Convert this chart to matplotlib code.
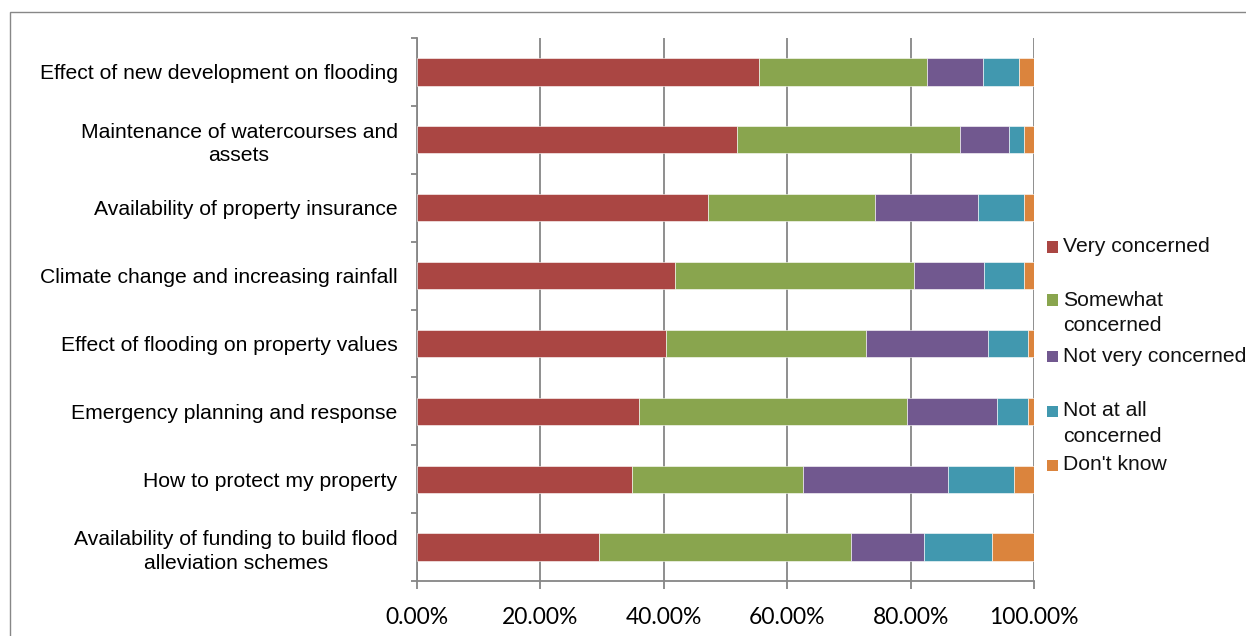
import matplotlib
matplotlib.use("Agg")
import matplotlib.pyplot as plt
from matplotlib.patches import Rectangle
import numpy as np

categories = [
    "Effect of new development on flooding",
    "Maintenance of watercourses and\nassets",
    "Availability of property insurance",
    "Climate change and increasing rainfall",
    "Effect of flooding on property values",
    "Emergency planning and response",
    "How to protect my property",
    "Availability of funding to build flood\nalleviation schemes",
]
series_names = ["Very concerned", "Somewhat concerned", "Not very concerned",
                "Not at all concerned", "Don't know"]
legend_lines = [["Very concerned"], ["Somewhat", "concerned"], ["Not very concerned"],
                ["Not at all", "concerned"], ["Don't know"]]

very = [55.4, 51.9, 47.1, 41.8, 40.4, 35.9, 34.9, 29.5]
somewhat = [27.2, 36.1, 27.2, 38.8, 32.3, 43.5, 27.7, 40.9]
not_very = [9.1, 8.0, 16.6, 11.3, 19.9, 14.6, 23.5, 11.8]
not_at_all = [5.8, 2.4, 7.4, 6.5, 6.5, 5.1, 10.6, 11.0]
dont_know = [2.5, 1.6, 1.7, 1.6, 0.9, 0.9, 3.3, 6.8]

xticks = [0, 20, 40, 60, 80, 100]
xtick_labels = ["0.00%", "20.00%", "40.00%", "60.00%", "80.00%", "100.00%"]

colors = ["#AA4643", "#89A54E", "#71588F", "#4198AF", "#DB843D"]

W, H = 1246, 636
fig = plt.figure(figsize=(W / 100, H / 100), dpi=100)
ax = fig.add_axes([417 / W, 1 - 581 / H, 617 / W, (581 - 38) / H])

y = np.arange(len(categories))
left = np.zeros(len(categories))
for vals, c, name in zip([very, somewhat, not_very, not_at_all, dont_know], colors, series_names):
    ax.barh(y, vals, left=left, height=0.4, color=c, edgecolor="white",
            linewidth=0.4, label=name, zorder=3)
    left += np.array(vals)

ax.set_xlim(0, 100)
ax.set_ylim(len(categories) - 0.5, -0.5)
gray = "#868686"
ax.set_xticks(xticks)
ax.set_xticklabels(xtick_labels, fontfamily="Lato", fontsize=16.5)
ax.xaxis.grid(True, color=gray, linewidth=1.3, zorder=0)
ax.set_axisbelow(True)
ax.set_yticks(y)
ax.set_yticklabels(categories, fontfamily="Liberation Sans", fontsize=15.2,
                   linespacing=1.3, ha="right", multialignment="center")
ax.set_yticks(np.arange(len(categories) + 1) - 0.5, minor=True)
ax.tick_params(axis="y", which="major", length=0, pad=14)
ax.tick_params(axis="y", which="minor", length=4.5, color=gray, width=1.3, direction="out")
ax.tick_params(axis="x", which="major", length=6, color=gray, width=1.3, direction="out", pad=13)
for s in ["top", "right"]:
    ax.spines[s].set_visible(False)
for s in ["left", "bottom"]:
    ax.spines[s].set_color(gray)
    ax.spines[s].set_linewidth(1.3)

# manual legend (markers aligned with first line, as in the original)
first_line_y = [247, 300, 356, 411, 465]
line_gap = 25.5
for lines, c, yp in zip(legend_lines, colors, first_line_y):
    fig.add_artist(Rectangle((1047 / W, 1 - (yp + 5.5) / H), 11 / W, 11 / H,
                             transform=fig.transFigure, facecolor=c, edgecolor="none"))
    for k, ln in enumerate(lines):
        fig.text(1063 / W, 1 - (yp + k * line_gap) / H, ln, fontfamily="Liberation Sans",
                 fontsize=15.2, va="center", ha="left", color="#111111")

# chart area border
fig.add_artist(Rectangle((9.5 / W, -0.1), 2, 1 - 12 / H + 0.1, transform=fig.transFigure,
                         fill=False, edgecolor="#878787", linewidth=1.0))

fig.savefig("out.png", dpi=100)
